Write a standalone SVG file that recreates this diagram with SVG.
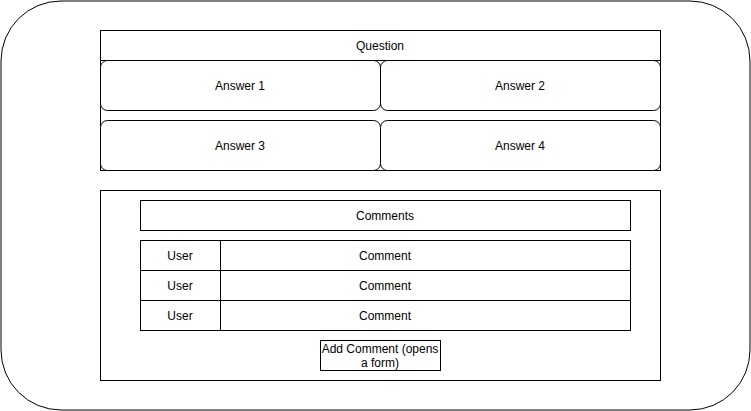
<svg xmlns="http://www.w3.org/2000/svg" width="751" height="411" viewBox="0 0 751 411">
<style>
.b{fill:#fff;stroke:#000;stroke-width:1}
.t{font-family:"Liberation Sans",Arial,sans-serif;font-size:12px;fill:#000;text-anchor:middle;dominant-baseline:central}
</style>
<rect width="751" height="411" fill="#fff"/>
<g id="frame"><rect class="b" x="1" y="1" width="749" height="409" rx="60" ry="60"/></g>
<g id="question"><rect class="b" x="100.5" y="30.5" width="560" height="140"/><line x1="100.5" y1="60.5" x2="660.5" y2="60.5" stroke="#000"/><text class="t" x="380" y="46">Question</text></g>
<g id="answer1"><rect class="b" x="100.5" y="60.5" width="280" height="50" rx="7"/><text class="t" x="240" y="86">Answer 1</text></g>
<g id="answer2"><rect class="b" x="380.5" y="60.5" width="280" height="50" rx="7"/><text class="t" x="520" y="86">Answer 2</text></g>
<g id="answer3"><rect class="b" x="100.5" y="120.5" width="280" height="50" rx="7"/><text class="t" x="240" y="146">Answer 3</text></g>
<g id="answer4"><rect class="b" x="380.5" y="120.5" width="280" height="50" rx="7"/><text class="t" x="520" y="146">Answer 4</text></g>
<g id="commentsBox"><rect class="b" x="100.5" y="190.5" width="560" height="190"/></g>
<g id="commentsHeader"><rect class="b" x="140.5" y="200.5" width="490" height="30"/><text class="t" x="385" y="216">Comments</text></g>
<g id="comment1"><rect class="b" x="140.5" y="240.5" width="490" height="30"/><text class="t" x="385" y="256">Comment</text></g>
<g id="user1"><rect class="b" x="140.5" y="240.5" width="80" height="30"/><text class="t" x="180" y="256">User</text></g>
<g id="comment2"><rect class="b" x="140.5" y="270.5" width="490" height="30"/><text class="t" x="385" y="286">Comment</text></g>
<g id="user2"><rect class="b" x="140.5" y="270.5" width="80" height="30"/><text class="t" x="180" y="286">User</text></g>
<g id="comment3"><rect class="b" x="140.5" y="300.5" width="490" height="30"/><text class="t" x="385" y="316">Comment</text></g>
<g id="user3"><rect class="b" x="140.5" y="300.5" width="80" height="30"/><text class="t" x="180" y="316">User</text></g>
<g id="addComment"><rect class="b" x="320.5" y="340.5" width="120" height="30"/><text class="t" x="380" y="349">Add Comment (opens</text><text class="t" x="380" y="363">a form)</text></g>
<g id="connectors"></g>
</svg>
